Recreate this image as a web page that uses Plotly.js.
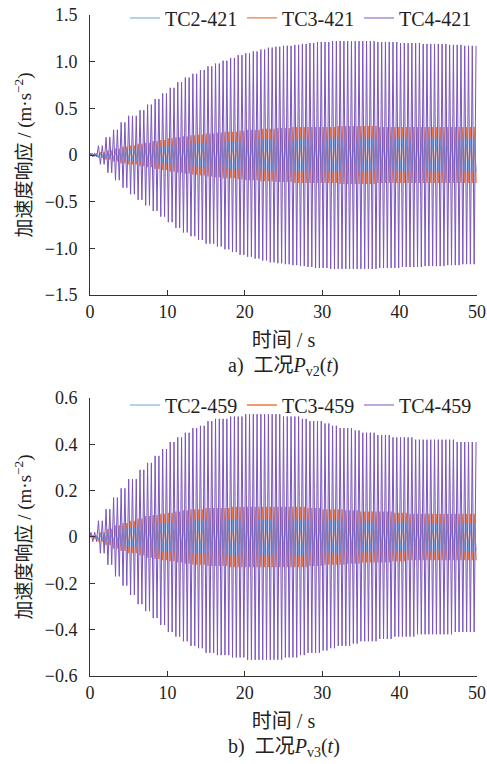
<!DOCTYPE html>
<html>
<head>
<meta charset="utf-8">
<script src="https://cdn.plot.ly/plotly-3.0.1.min.js"></script>
<style>html,body{margin:0;padding:0;background:#fff;}#chart{width:487px;height:764px;}</style>
</head>
<body>
<div id="chart"></div>
<script>
// ---- data (amplitude of the response envelope, one value per second) ----
const seconds = Array.from({length: 51}, (_, i) => i); // 0..50 s
const cycleRate = 2.05; // visible oscillation cycles per second

const seriesNamesA = ["TC2-421", "TC3-421", "TC4-421"];
const seriesNamesB = ["TC2-459", "TC3-459", "TC4-459"];

const ampTC2_421 = [0.01,0.02,0.03,0.04,0.05,0.06,0.07,0.08,0.08,0.09,0.10,0.11,0.11,0.12,0.13,0.13,0.14,0.14,0.15,0.15,0.16,0.16,0.16,0.17,0.17,0.17,0.17,0.18,0.18,0.18,0.18,0.18,0.18,0.18,0.18,0.18,0.18,0.18,0.18,0.18,0.18,0.18,0.18,0.18,0.18,0.18,0.18,0.18,0.18,0.18,0.18];
const ampTC3_421 = [0.01,0.03,0.05,0.07,0.09,0.10,0.12,0.13,0.15,0.16,0.18,0.19,0.20,0.21,0.22,0.23,0.24,0.25,0.25,0.26,0.27,0.27,0.28,0.28,0.29,0.29,0.30,0.30,0.30,0.30,0.30,0.30,0.31,0.31,0.31,0.31,0.31,0.30,0.30,0.30,0.30,0.30,0.30,0.30,0.30,0.30,0.30,0.30,0.30,0.30,0.30];
const ampTC4_421 = [0.02,0.10,0.19,0.27,0.35,0.42,0.48,0.54,0.60,0.66,0.72,0.78,0.83,0.87,0.91,0.95,0.98,1.01,1.04,1.07,1.09,1.11,1.13,1.15,1.16,1.17,1.18,1.19,1.20,1.21,1.21,1.22,1.22,1.22,1.22,1.22,1.22,1.21,1.21,1.21,1.20,1.20,1.20,1.19,1.19,1.19,1.18,1.18,1.17,1.17,1.16];

const ampTC2_459 = [0.003,0.012,0.021,0.03,0.036,0.042,0.048,0.054,0.057,0.06,0.063,0.066,0.069,0.072,0.072,0.075,0.075,0.075,0.078,0.078,0.078,0.078,0.078,0.078,0.078,0.078,0.078,0.078,0.075,0.075,0.072,0.072,0.072,0.069,0.069,0.066,0.066,0.066,0.066,0.063,0.063,0.06,0.06,0.06,0.06,0.06,0.06,0.06,0.06,0.06,0.06];
const ampTC3_459 = [0.005,0.02,0.035,0.05,0.06,0.07,0.08,0.09,0.095,0.10,0.105,0.11,0.115,0.12,0.12,0.125,0.125,0.125,0.13,0.13,0.13,0.13,0.13,0.13,0.13,0.13,0.13,0.13,0.125,0.125,0.12,0.12,0.12,0.115,0.115,0.11,0.11,0.11,0.11,0.105,0.105,0.10,0.10,0.10,0.10,0.10,0.10,0.10,0.10,0.10,0.10];
const ampTC4_459 = [0.02,0.07,0.12,0.17,0.21,0.25,0.29,0.32,0.35,0.38,0.41,0.43,0.45,0.47,0.48,0.50,0.51,0.51,0.52,0.52,0.53,0.53,0.53,0.53,0.53,0.52,0.52,0.51,0.50,0.50,0.49,0.48,0.47,0.47,0.46,0.45,0.45,0.44,0.44,0.43,0.43,0.43,0.42,0.42,0.42,0.42,0.42,0.41,0.41,0.41,0.41];

const yTickValsA = [-1.5,-1.0,-0.5,0,0.5,1.0,1.5];
const yTickTextA = ["\u22121.5","\u22121.0","\u22120.5","0","0.5","1.0","1.5"];
const yTickValsB = [-0.6,-0.4,-0.2,0,0.2,0.4,0.6];
const yTickTextB = ["\u22120.6","\u22120.4","\u22120.2","0","0.2","0.4","0.6"];
const xTickVals = [0,10,20,30,40,50];

const colors = ["#6FA3D8", "#EE7A3E", "#7B55BE"];

// build oscillation through the envelope peaks (amplitude looked up per second)
function wave(amp, phase) {
  const x = [0], y = [0];
  for (let i = 0; ; i++) {
    const tu = (i + 0.25 + phase) / cycleRate;
    const td = (i + 0.75 + phase) / cycleRate;
    if (tu > 50) break;
    x.push(tu); y.push(amp[seconds.indexOf(Math.floor(tu))]);
    if (td > 50) break;
    x.push(td); y.push(-amp[seconds.indexOf(Math.floor(td))]);
  }
  return {x, y};
}

const serif = "'Liberation Serif', 'Times New Roman', 'DejaVu Serif', serif";
const cjk = "'Liberation Serif', 'Noto Sans CJK SC', serif";

function trace(amp, name, color, xa, ya, legend, phase, width, rank) {
  const w = wave(amp, phase);
  return {
    type: "scatter", mode: "lines", x: w.x, y: w.y, name: name, legendrank: rank,
    line: {color: color, width: width}, xaxis: xa, yaxis: ya, legend: legend
  };
}

// drawing order: TC3 (orange) under TC2 (blue) under TC4 (purple); legend order TC2, TC3, TC4
const data = [
  trace(ampTC3_421, seriesNamesA[1], colors[1], "x", "y", "legend", 0.5, 1.3, 2),
  trace(ampTC2_421, seriesNamesA[0], colors[0], "x", "y", "legend", 0.5, 1.1, 1),
  trace(ampTC4_421, seriesNamesA[2], colors[2], "x", "y", "legend", 0, 1, 3),
  trace(ampTC3_459, seriesNamesB[1], colors[1], "x2", "y2", "legend2", 0.5, 1.3, 2),
  trace(ampTC2_459, seriesNamesB[0], colors[0], "x2", "y2", "legend2", 0.5, 1.1, 1),
  trace(ampTC4_459, seriesNamesB[2], colors[2], "x2", "y2", "legend2", 0, 1, 3)
];

const axisCommon = {
  showgrid: false, zeroline: false, showline: true, linecolor: "#333", linewidth: 1,
  ticks: "inside", ticklen: 5, tickcolor: "#333",
  tickfont: {family: serif, size: 18, color: "#222"}
};

const xCommon = Object.assign({}, axisCommon, {
  range: [0, 50], tickvals: xTickVals, ticktext: xTickVals.map(String),
  title: {text: "时间 / s", font: {family: cjk, size: 20, color: "#222"}, standoff: 12}
});

const yTitle = "加速度响应 / (m·s<sup>−2</sup>)";

const legendCommon = {
  orientation: "h", bgcolor: "rgba(0,0,0,0)", xanchor: "left", yanchor: "middle",
  font: {family: serif, size: 20, color: "#222"}, itemwidth: 30, tracegroupgap: 0,
  entrywidth: 72, traceorder: "normal"
};

const layout = {
  width: 487, height: 764,
  margin: {l: 90, r: 10, t: 15, b: 88, autoexpand: false},
  paper_bgcolor: "#fff", plot_bgcolor: "#fff",
  showlegend: true,
  xaxis: Object.assign({}, xCommon, {domain: [0, 1], anchor: "y"}),
  yaxis: Object.assign({}, axisCommon, {
    domain: [0.5764, 1], anchor: "x", range: [-1.5, 1.5],
    tickvals: yTickValsA, ticktext: yTickTextA, ticklabelstandoff: 8,
    title: {text: yTitle, font: {family: cjk, size: 19, color: "#222"}, standoff: 8}
  }),
  xaxis2: Object.assign({}, xCommon, {domain: [0, 1], anchor: "y2"}),
  yaxis2: Object.assign({}, axisCommon, {
    domain: [0, 0.4206], anchor: "x2", range: [-0.6, 0.6],
    tickvals: yTickValsB, ticktext: yTickTextB, ticklabelstandoff: 8,
    title: {text: yTitle, font: {family: cjk, size: 19, color: "#222"}, standoff: 8}
  }),
  legend: Object.assign({}, legendCommon, {x: 0.0904, y: 0.9955}),
  legend2: Object.assign({}, legendCommon, {x: 0.0904, y: 0.410}),
  annotations: [
    {text: "a)  工况<i>P</i><sub>v2</sub>(<i>t</i>)", xref: "paper", yref: "paper", x: 0.5, y: 0.5764,
     xanchor: "center", yanchor: "middle", yshift: -72, showarrow: false,
     font: {family: cjk, size: 20, color: "#222"}},
    {text: "b)  工况<i>P</i><sub>v3</sub>(<i>t</i>)", xref: "paper", yref: "paper", x: 0.5, y: 0,
     xanchor: "center", yanchor: "middle", yshift: -71, showarrow: false,
     font: {family: cjk, size: 20, color: "#222"}}
  ]
};

Plotly.newPlot("chart", data, layout, {displayModeBar: false, staticPlot: true});
</script>
</body>
</html>
